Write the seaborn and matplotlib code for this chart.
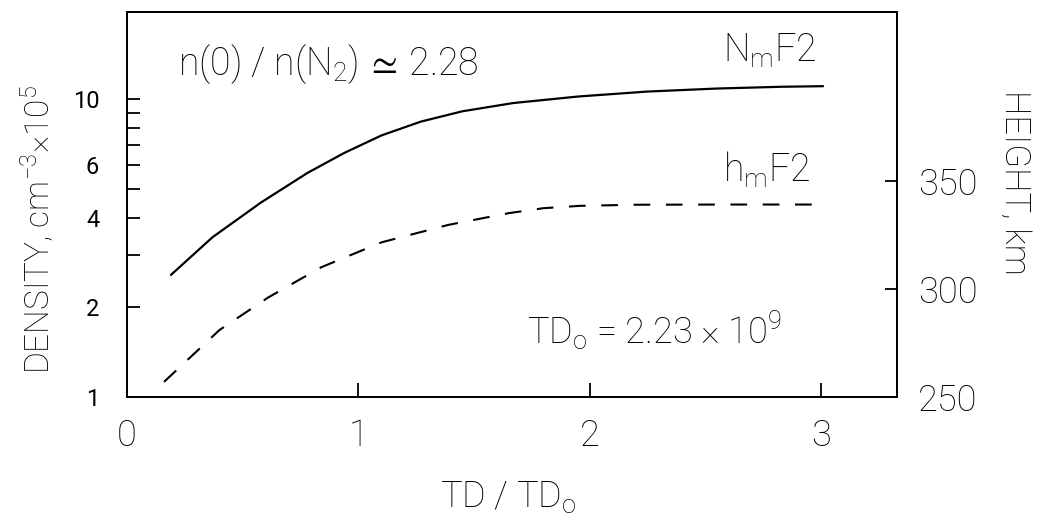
import numpy as np
import pandas as pd
import matplotlib
matplotlib.use("Agg")
import matplotlib.pyplot as plt
import seaborn as sns

# ---- data ----
td_nmf2 = [0.19, 0.37, 0.58, 0.78, 0.94, 1.10, 1.27, 1.45, 1.67, 1.95, 2.25, 2.55, 2.83, 3.01]
nmf2 = [2.57, 3.44, 4.50, 5.65, 6.60, 7.55, 8.40, 9.10, 9.70, 10.20, 10.60, 10.85, 11.00, 11.05]

td_hmf2 = [0.16, 0.40, 0.61, 0.84, 1.10, 1.39, 1.65, 1.80, 1.96, 2.20, 2.60, 3.01]
hmf2 = [257.0, 281.0, 296.0, 310.0, 321.5, 329.6, 335.0, 337.3, 338.4, 338.9, 339.0, 339.0]

x_ticks = [0, 1, 2, 3]
density_ticks = [1, 2, 4, 6, 10]
density_minor = [3, 5, 7, 8, 9]
height_ticks = [250, 300, 350]

df_n = pd.DataFrame({"td": td_nmf2, "n": nmf2})
df_h = pd.DataFrame({"td": td_hmf2, "h": hmf2})

sns.set_theme(style="white")
plt.rcParams["font.family"] = ["Roboto", "DejaVu Sans"]
plt.rcParams["font.weight"] = "light"
plt.rcParams["mathtext.fontset"] = "custom"
plt.rcParams["mathtext.rm"] = "Roboto:light"
plt.rcParams["mathtext.it"] = "Roboto:italic:light"
plt.rcParams["mathtext.bf"] = "Roboto:bold"
plt.rcParams["mathtext.fallback"] = "stixsans"

fig = plt.figure(figsize=(10.42, 5.3), dpi=100)
ax = fig.add_axes([0.1219, 0.2509, 0.739, 0.7264])
ax2 = ax.twinx()

sns.lineplot(data=df_n, x="td", y="n", ax=ax, color="black", lw=1.6, sort=False)
sns.lineplot(data=df_h, x="td", y="h", ax=ax2, color="black", lw=1.5, sort=False,
             linestyle=(0, (8, 7.5)))

ax.set_yscale("log")
ax.set_xlim(0, 3.33)
ax.set_ylim(1, 19.6)
ax2.set_ylim(250, 428)

ax.set_xticks(x_ticks)
ax.set_xticklabels([str(v) for v in x_ticks])
ax.yaxis.set_major_locator(matplotlib.ticker.FixedLocator(density_ticks))
ax.yaxis.set_major_formatter(matplotlib.ticker.FixedFormatter([str(v) for v in density_ticks]))
ax.yaxis.set_minor_locator(matplotlib.ticker.FixedLocator(density_minor))
ax.yaxis.set_minor_formatter(matplotlib.ticker.NullFormatter())
ax2.set_yticks(height_ticks)
ax2.set_yticklabels([str(v) for v in height_ticks])

ax.set_xlabel("")
ax.set_ylabel("")
ax2.set_ylabel("")

for a in (ax, ax2):
    for s in a.spines.values():
        s.set_color("black")
        s.set_linewidth(1.4)

ax.tick_params(axis="x", which="major", bottom=True, top=False, direction="in",
               length=10, width=1.3, color="black", pad=15, labelsize=26, labelcolor="black")
ax.tick_params(axis="y", which="both", left=True, right=False, direction="in",
               length=9, width=1.3, color="black", pad=20, labelsize=17, labelcolor="black")
ax2.tick_params(axis="y", which="major", right=True, left=False, direction="in",
                length=9, width=1.3, color="black", pad=15, labelsize=26, labelcolor="black")
ax2.tick_params(axis="x", bottom=False, top=False)

for lab in ax.get_xticklabels() + ax2.get_yticklabels():
    lab.set_fontweight("light")
for lab in ax.get_yticklabels():
    lab.set_fontweight("normal")

# annotations
ax.text(0.066, 0.836, "n(0) / n(N$_2$)$\\,\\simeq\\,$2.28", transform=ax.transAxes,
        fontsize=27, fontweight="light", va="baseline", ha="left", color="black")
ax.text(0.774, 0.870, "N$_\\mathrm{m}$F2", transform=ax.transAxes,
        fontsize=27, fontweight="light", va="baseline", ha="left", color="black")
ax.text(0.774, 0.558, "h$_\\mathrm{m}$F2", transform=ax.transAxes,
        fontsize=27, fontweight="light", va="baseline", ha="left", color="black")
ax.text(0.519, 0.140, "TD$_\\mathrm{o}$ = 2.23 \u00d7 10$^9$", transform=ax.transAxes,
        fontsize=26, fontweight="light", va="baseline", ha="left", color="black")

# axis labels
fig.text(0.4875, 0.062, "TD / TD$_\\mathrm{o}$", fontsize=26, fontweight="light",
         ha="center", va="center", color="black")
fig.text(0.0365, 0.566, "DENSITY, cm$^{-3}$\u00d710$^5$", fontsize=24, fontweight="light",
         rotation=90, ha="center", va="center", color="black")
fig.text(0.974, 0.655, "HEIGHT, km", fontsize=25, fontweight="light",
         rotation=270, ha="center", va="center", color="black")

fig.savefig("out.png", dpi=100, facecolor="white")
